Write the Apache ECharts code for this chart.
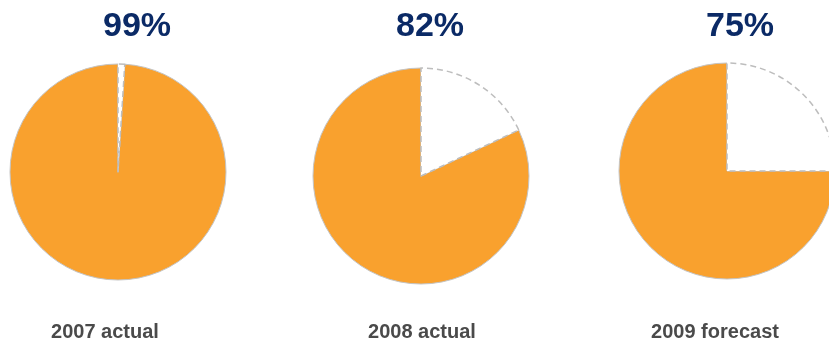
<!DOCTYPE html>
<html>
<head>
<meta charset="utf-8">
<script src="https://cdn.jsdelivr.net/npm/echarts@6/dist/echarts.min.js"></script>
<style>
  html, body { margin: 0; padding: 0; background: #fff; }
  #chart { width: 829px; height: 350px; }
</style>
</head>
<body>
<div id="chart"></div>
<script>
// share of each year, in percent
const years = ["2007 actual", "2008 actual", "2009 forecast"];
const shares = [99, 82, 75];
const shareLabels = ["99%", "82%", "75%"];

const pieCenters = [[118, 172], [421, 176], [727, 171]];
const titleX = [137, 430, 740];
const labelX = [105, 422, 715];

const chart = echarts.init(document.getElementById("chart"));

const series = shares.map((share, i) => ({
  type: "pie",
  center: pieCenters[i],
  radius: 108,
  startAngle: 90,
  clockwise: false,
  silent: true,
  label: { show: false },
  labelLine: { show: false },
  emphasis: { disabled: true },
  data: [
    {
      value: share,
      itemStyle: { color: "#f9a12e", borderColor: "#c4c4c4", borderWidth: 1 },
    },
    {
      value: 100 - share,
      itemStyle: {
        color: "#ffffff",
        borderColor: "#bdbdbd",
        borderWidth: 1.5,
        borderType: [6, 4],
      },
    },
  ],
}));

const texts = [];
shareLabels.forEach((t, i) => {
  texts.push({
    type: "text",
    x: titleX[i],
    y: 27,
    style: {
      text: t,
      align: "center",
      verticalAlign: "middle",
      fontFamily: "Liberation Sans, Arial, sans-serif",
      fontSize: 34,
      fontWeight: "bold",
      fill: "#0b2a66",
    },
  });
});
years.forEach((t, i) => {
  texts.push({
    type: "text",
    x: labelX[i],
    y: 332,
    style: {
      text: t,
      align: "center",
      verticalAlign: "middle",
      fontFamily: "Liberation Sans, Arial, sans-serif",
      fontSize: 20,
      fontWeight: "bold",
      fill: "#4a4a4a",
    },
  });
});

chart.setOption({
  animation: false,
  backgroundColor: "#ffffff",
  series,
  graphic: texts,
});
</script>
</body>
</html>
